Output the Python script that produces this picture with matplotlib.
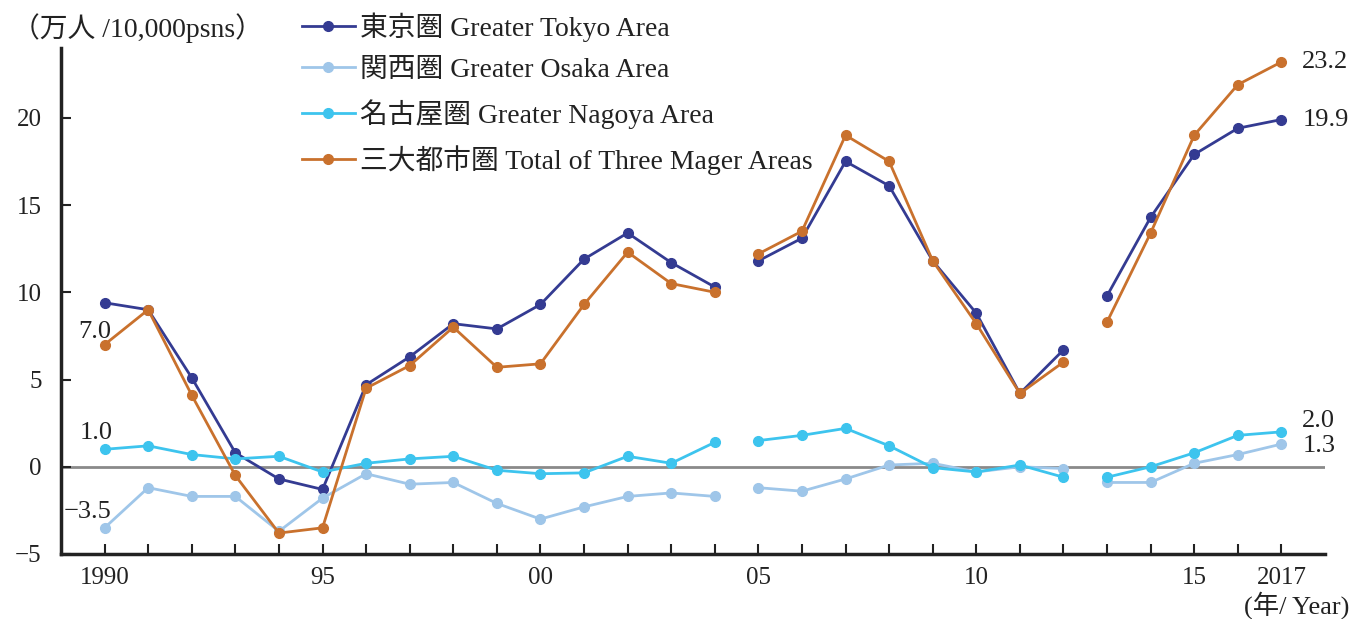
import matplotlib
matplotlib.use("Agg")
import matplotlib.pyplot as plt
import numpy as np

plt.rcParams['font.family'] = ['Liberation Serif', 'Noto Sans CJK JP']
plt.rcParams['axes.unicode_minus'] = True

years = list(range(1990, 2018))
tokyo = [9.4, 9.0, 5.1, 0.8, -0.7, -1.3, 4.7, 6.3, 8.2, 7.9, 9.3, 11.9, 13.4, 11.7, 10.3,
         11.8, 13.1, 17.5, 16.1, 11.8, 8.8, 4.2, 6.7, 9.8, 14.3, 17.9, 19.4, 19.9]
osaka = [-3.5, -1.2, -1.7, -1.7, -3.7, -1.8, -0.4, -1.0, -0.9, -2.1, -3.0, -2.3, -1.7, -1.5, -1.7,
         -1.2, -1.4, -0.7, 0.1, 0.2, -0.3, 0.0, -0.1, -0.9, -0.9, 0.2, 0.7, 1.3]
nagoya = [1.0, 1.2, 0.7, 0.45, 0.6, -0.3, 0.2, 0.45, 0.6, -0.2, -0.4, -0.35, 0.6, 0.2, 1.4,
          1.5, 1.8, 2.2, 1.2, -0.05, -0.3, 0.1, -0.6, -0.6, 0.0, 0.8, 1.8, 2.0]
total = [7.0, 9.0, 4.1, -0.5, -3.8, -3.5, 4.5, 5.8, 8.0, 5.7, 5.9, 9.3, 12.3, 10.5, 10.0,
         12.2, 13.5, 19.0, 17.5, 11.8, 8.2, 4.2, 6.0, 8.3, 13.4, 19.0, 21.9, 23.2]

series_labels = ['東京圏 Greater Tokyo Area', '関西圏 Greater Osaka Area',
                 '名古屋圏 Greater Nagoya Area', '三大都市圏 Total of Three Mager Areas']
colors = ['#343b92', '#9fc6e9', '#3dc4ee', '#c9712d']
segment_starts = [1990, 2005, 2013]
segment_ends = [2004, 2012, 2017]

xtick_pos = [1990, 1995, 2000, 2005, 2010, 2015, 2017]
xtick_labels = ['1990', '95', '00', '05', '10', '15', '2017']

fig = plt.figure(figsize=(13.53, 6.19), dpi=100)
ax = fig.add_axes([61/1353, 1 - 554/619, (1325-61)/1353, (554-48)/619])

ax.axhline(0, color='#8a8a8a', lw=2, zorder=1)

yrs = np.array(years)
for data, col, lab in zip([tokyo, osaka, nagoya, total], colors, series_labels):
    arr = np.array(data)
    for i, (s, e) in enumerate(zip(segment_starts, segment_ends)):
        m = (yrs >= s) & (yrs <= e)
        ax.plot(yrs[m], arr[m], color=col, lw=2, marker='o', ms=7,
                label=lab if i == 0 else None, zorder=3)

ax.set_xlim(1989, 2018)
ax.set_ylim(-5, 24)
ax.set_yticks([-5, 0, 5, 10, 15, 20])
ax.set_xticks(xtick_pos)
ax.set_xticklabels(xtick_labels)
ax.set_xticks(years, minor=True)
ax.tick_params(axis='both', which='both', direction='in', length=7, width=1.5,
               labelsize=18, colors='#222222')
ax.tick_params(axis='x', pad=9)
ax.tick_params(axis='y', pad=14)
for s in ['top', 'right']:
    ax.spines[s].set_visible(False)
for s in ['left', 'bottom']:
    ax.spines[s].set_linewidth(2.5)
    ax.spines[s].set_color('#222222')

# value annotations
def ann(val, x, dx, dy, ha):
    txt = f"{val:.1f}".replace('-', '\u2212')
    ax.annotate(txt, xy=(x, val), xytext=(dx, dy), textcoords='offset points',
                ha=ha, va='center', fontsize=19, color='#222222')

i0 = 0
ann(total[i0], years[i0], -7, 9, 'center')
ann(nagoya[i0], years[i0], -6, 12, 'center')
ann(osaka[i0], years[i0], -12, 11.5, 'center')
ann(total[-1], years[-1], 15, 0, 'left')
ann(tokyo[-1], years[-1], 15, 0, 'left')
ann(nagoya[-1], years[-1], 15, 8, 'left')
ann(osaka[-1], years[-1], 15, -1.5, 'left')

fig.text(12/1353, 1 - 28/619, '（万人 /10,000psns）', fontsize=20, va='center', ha='left',
         color='#222222')
fig.text(1349/1353, 1 - 605/619, '(年/ Year)', fontsize=19, va='center', ha='right',
         color='#222222')

leg = ax.legend(loc='upper left', bbox_to_anchor=(302/1353, 1 - 12/619),
                bbox_transform=fig.transFigure, frameon=False, fontsize=20,
                handlelength=1.9, handletextpad=0.18, labelspacing=0.58,
                borderpad=0, borderaxespad=0)
for t in leg.get_texts():
    t.set_color('#222222')

fig.savefig('out.png', dpi=100)
